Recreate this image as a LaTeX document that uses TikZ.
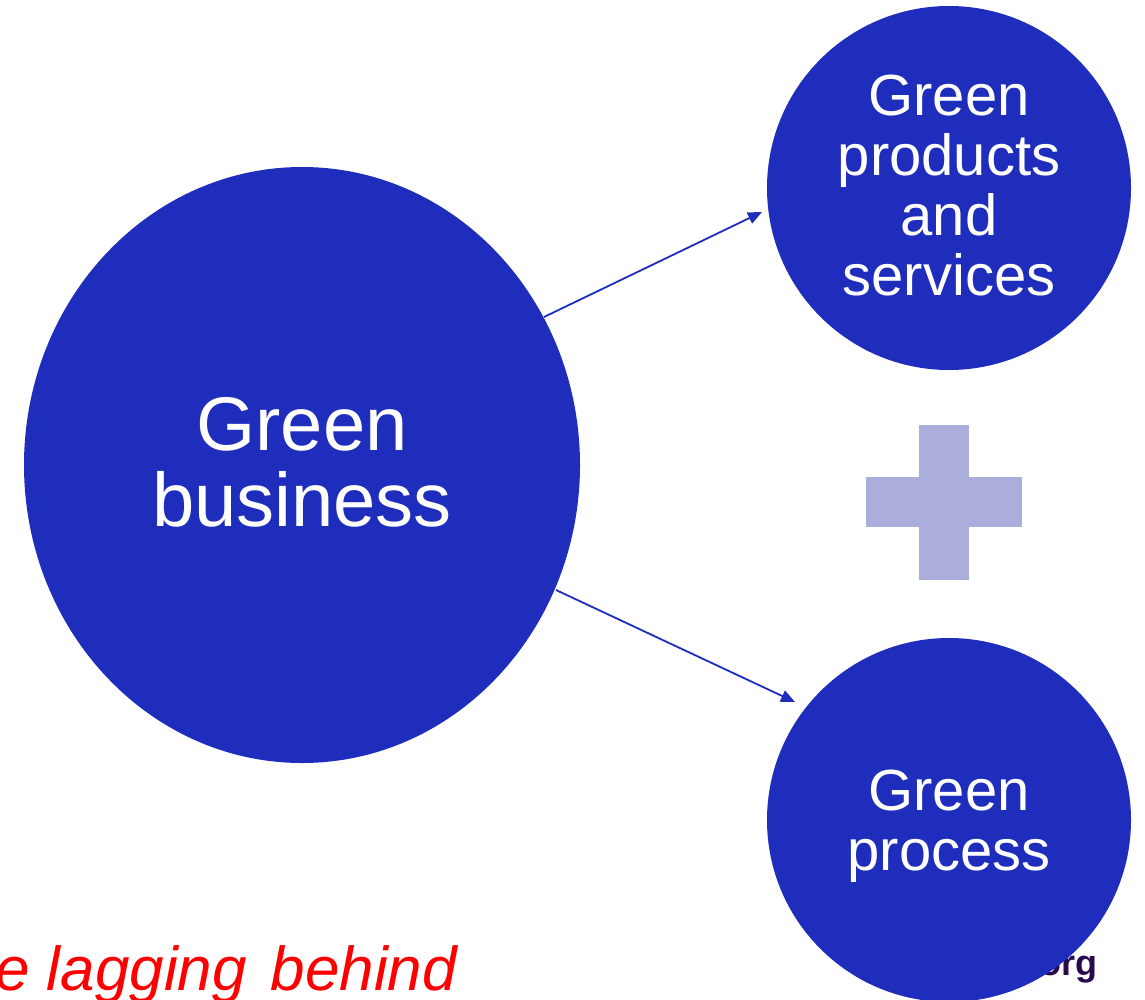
\documentclass[tikz,border=0pt]{standalone}
\usepackage{fontspec}
\setmainfont{Liberation Sans}
\usetikzlibrary{arrows.meta}
\definecolor{cblue}{HTML}{1F2DBD}
\definecolor{cplus}{HTML}{ABAEDB}
\definecolor{cred}{HTML}{FF0000}
\definecolor{cpurple}{HTML}{2A0A4E}
\begin{document}
\begin{tikzpicture}[x=1pt,y=-1pt,
  bubble/.style={fill=cblue,draw=none,text=white,align=center,inner sep=0pt},
  conn/.style={draw=cblue,line width=1.8pt,-{Triangle[length=14pt,width=12pt]}}]
\useasboundingbox (0,0) rectangle (1145,999);
\fill[white] (0,0) rectangle (1145,999);
% partially hidden footer text
\node[anchor=base east,inner sep=0pt,text=cpurple,font=\bfseries\fontsize{36}{40}\selectfont] (org) at (1098,975) {.org};
% red caption
\node[anchor=base west,inner sep=0pt,text=cred,font=\itshape\fontsize{62}{70}\selectfont] (cap) at (-5,990) {e lagging\hspace{24pt}behind};
% circles
\fill[cblue] (302,465) ellipse [x radius=278, y radius=298];
\node[bubble,font=\fontsize{76}{76}\selectfont] (gb) at (302,462) {Green\\business};
\fill[cblue] (949,188) circle [radius=182];
\node[bubble,font=\fontsize{58}{60}\selectfont] (gps) at (949,186) {Green\\products\\and\\services};
\fill[cblue] (949,820) circle [radius=182];
\node[bubble,font=\fontsize{58}{60}\selectfont] (gp) at (949,826) {Green\\process};
% plus
\fill[cplus] (919,425) rectangle (969,580);
\fill[cplus] (866,477) rectangle (1022,527);
% connectors
\coordinate (a1) at (544,317);
\coordinate (b1) at (762,212);
\coordinate (a2) at (556,590);
\coordinate (b2) at (795,702);
\draw[conn] (a1) -- (b1);
\draw[conn] (a2) -- (b2);
\end{tikzpicture}
\end{document}
